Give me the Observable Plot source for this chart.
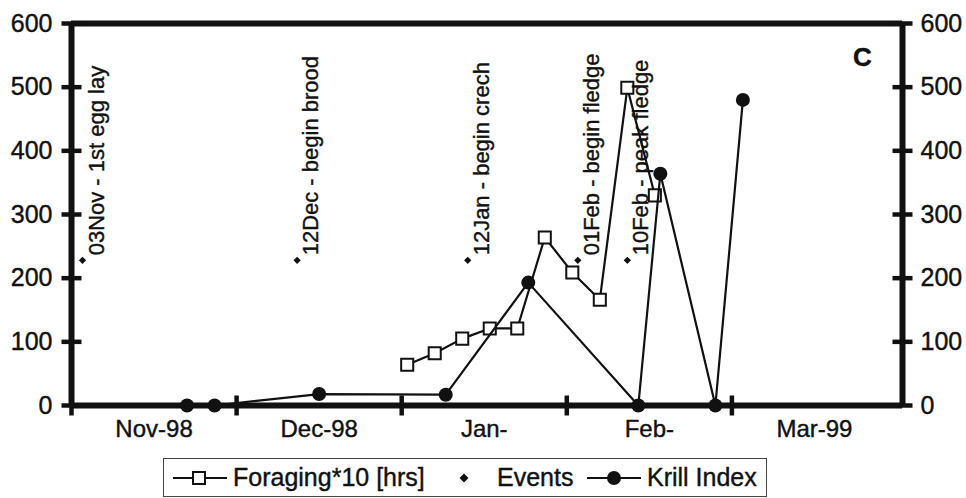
<!DOCTYPE html>
<html><head><meta charset="utf-8">
<script src="https://cdn.jsdelivr.net/npm/d3@7"></script>
<script src="https://cdn.jsdelivr.net/npm/@observablehq/plot@0.6"></script>
<style>
body{margin:0;background:#fff;font-family:"Liberation Sans",Arial,sans-serif;}
#wrap{position:relative;width:966px;height:498px;overflow:hidden;}
#legend{position:absolute;left:163px;top:458px;width:604px;height:39px;border:1px solid #444;box-sizing:border-box;background:#fff;}
.li{position:absolute;top:0;height:37px;line-height:37px;font-size:25px;color:#111;white-space:nowrap;-webkit-text-stroke:0.4px #111;}
.ls{position:absolute;top:0;}
</style></head><body>
<div id="wrap"><div id="chart"></div><div id="legend"></div></div>
<script>
// ---- data ----
const forageDates = ["1999-01-01","1999-01-06","1999-01-11","1999-01-16","1999-01-21","1999-01-26","1999-01-31","1999-02-05","1999-02-10","1999-02-15"];
const forageValues = [64, 82, 105, 121, 121, 264, 209, 166, 499, 330];
const krillDates = ["1998-11-22","1998-11-27","1998-12-16","1999-01-08","1999-01-23","1999-02-12","1999-02-16","1999-02-26","1999-03-03"];
const krillValues = [0, 0, 18, 17, 193, 0, 364, 0, 480];
const eventDates = ["1998-11-03","1998-12-12","1999-01-12","1999-02-01","1999-02-10"];
const eventValues = [228, 228, 228, 228, 228];
const eventLabels = ["03Nov - 1st egg lay","12Dec - begin brood","12Jan - begin crech","01Feb - begin fledge","10Feb - peak fledge"];
const xDomain = ["1998-11-01","1999-04-01"];
const xTickDates = ["1998-11-01","1998-12-01","1998-12-31","1999-01-30","1999-03-01","1999-03-31"];
const monthLabels = ["Nov-98","Dec-98","Jan-","Feb-","Mar-99"];
const yTicks = [0, 100, 200, 300, 400, 500, 600];
const panelLabel = "C";
const legendLabels = ["Foraging*10 [hrs]","Events","Krill Index"];

// ---- build ----
const P = s => new Date(s + "T00:00:00Z");
const forage = forageDates.map((d, i) => ({date: P(d), value: forageValues[i]}));
const krill = krillDates.map((d, i) => ({date: P(d), value: krillValues[i]}));
const events = eventDates.map((d, i) => ({date: P(d), value: eventValues[i], label: eventLabels[i]}));
const ticks = xTickDates.map(P);
const months = monthLabels.map((m, i) => ({label: m, date: new Date((ticks[i].getTime() + ticks[i + 1].getTime()) / 2)}));
const ink = "#111";
const font = '"Liberation Sans", Arial, sans-serif';
const textInk = {fill: ink, stroke: ink, strokeWidth: 0.4};

// tick-mark symbols (crossing the axis lines)
const hTick = {draw(ctx, size) { const h = Math.sqrt(size / Math.PI); ctx.moveTo(-h, 0); ctx.lineTo(h, 0); }};
const vTick = {draw(ctx, size) { const h = Math.sqrt(size / Math.PI); ctx.moveTo(0, -h); ctx.lineTo(0, h); }};

const chart = Plot.plot({
  width: 966, height: 455,
  marginLeft: 71, marginRight: 64, marginTop: 23, marginBottom: 50,
  style: {fontFamily: font, fontSize: "25px", color: ink, background: "transparent", overflow: "visible"},
  x: {type: "utc", domain: xDomain.map(P), axis: null},
  y: {domain: [0, 600], axis: null},
  marks: [
    // frame / axis lines
    Plot.ruleY([0, 600], {stroke: ink, strokeWidth: 6}),
    Plot.ruleX(xDomain.map(P), {stroke: ink, strokeWidth: 6}),
    // tick marks
    Plot.dot(yTicks, {y: d => d, frameAnchor: "left", symbol: hTick, r: 10, fill: "none", stroke: ink, strokeWidth: 4.5}),
    Plot.dot(yTicks, {y: d => d, frameAnchor: "right", symbol: hTick, r: 10, fill: "none", stroke: ink, strokeWidth: 4.5}),
    Plot.dot(ticks.slice(0, 5), {x: d => d, frameAnchor: "bottom", symbol: vTick, r: 10, fill: "none", stroke: ink, strokeWidth: 4.5}),
    // tick labels
    Plot.text(yTicks, {y: d => d, text: d => String(d), frameAnchor: "left", textAnchor: "end", lineAnchor: "middle", dx: -19, fontSize: 25, ...textInk}),
    Plot.text(yTicks, {y: d => d, text: d => String(d), frameAnchor: "right", textAnchor: "start", lineAnchor: "middle", dx: 18, fontSize: 25, ...textInk}),
    Plot.text(months, {x: "date", text: "label", frameAnchor: "bottom", lineAnchor: "middle", dy: 24, fontSize: 24, ...textInk}),
    // data
    Plot.line(forage, {x: "date", y: "value", stroke: ink, strokeWidth: 2.2}),
    Plot.dot(forage, {x: "date", y: "value", symbol: "square", r: 6.8, fill: "#fff", stroke: ink, strokeWidth: 2}),
    Plot.line(krill, {x: "date", y: "value", stroke: ink, strokeWidth: 2.2}),
    Plot.dot(krill, {x: "date", y: "value", r: 7, fill: ink, stroke: "none"}),
    Plot.dot(events, {x: "date", y: "value", symbol: "diamond2", r: 3.3, fill: ink, stroke: "none"}),
    Plot.text(events, {x: "date", y: "value", text: "label", rotate: -90, textAnchor: "start", lineAnchor: "middle", dx: 14, dy: -5, fontSize: 22, ...textInk}),
    Plot.text([panelLabel], {frameAnchor: "top-right", lineAnchor: "middle", dx: -40, dy: 34, fontSize: 26, fontWeight: "bold", textAnchor: "middle", ...textInk})
  ]
});
document.getElementById("chart").appendChild(chart);

// ---- legend ----
const lg = d3.select("#legend");
function sym(left, kind) {
  const s = lg.append("svg").attr("class", "ls").style("left", left + "px").attr("width", 56).attr("height", 37);
  s.append("line").attr("x1", 0).attr("x2", 54).attr("y1", 19).attr("y2", 19).attr("stroke", ink).attr("stroke-width", 2.2);
  if (kind === "square") s.append("rect").attr("x", 26 - 6).attr("y", 19 - 6).attr("width", 12).attr("height", 12).attr("fill", "#fff").attr("stroke", ink).attr("stroke-width", 2);
  else s.append("circle").attr("cx", 27).attr("cy", 19).attr("r", 7).attr("fill", ink);
}
sym(9, "square");
lg.append("div").attr("class", "li").style("left", "69px").text(legendLabels[0]);
const ds = lg.append("svg").attr("class", "ls").style("left", "294px").attr("width", 12).attr("height", 37);
ds.append("path").attr("d", "M6,14.5 L10.5,19 L6,23.5 L1.5,19 Z").attr("fill", ink);
lg.append("div").attr("class", "li").style("left", "333px").text(legendLabels[1]);
sym(423, "circle");
lg.append("div").attr("class", "li").style("left", "483px").text(legendLabels[2]);
</script>
</body></html>
